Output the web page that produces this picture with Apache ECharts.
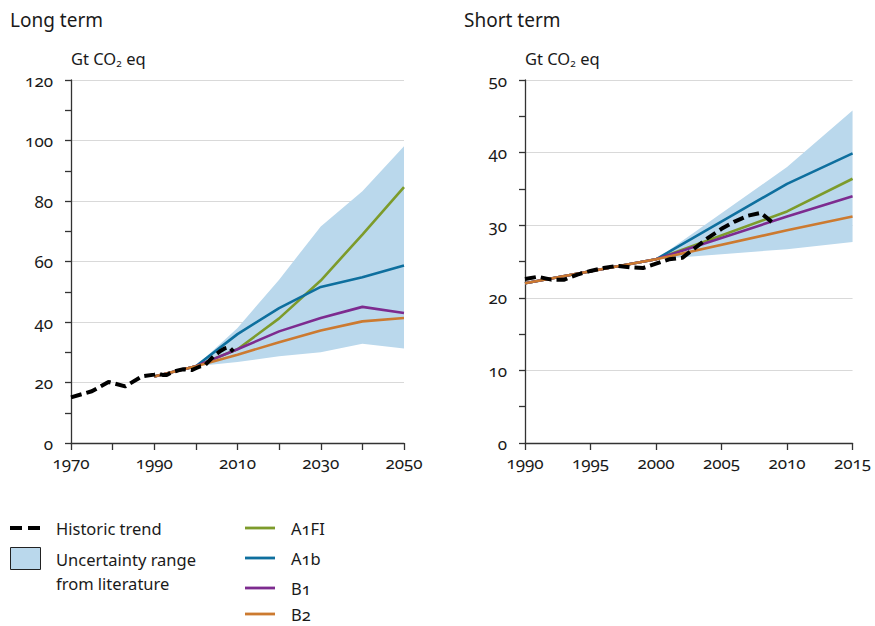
<!DOCTYPE html>
<html>
<head>
<meta charset="utf-8">
<script src="https://cdn.jsdelivr.net/npm/echarts@6/dist/echarts.min.js"></script>
<style>
html,body{margin:0;padding:0;background:#fff;}
#c{width:875px;height:626px;}
svg text{font-variant-numeric: oldstyle-nums !important; font-feature-settings: "onum" 1 !important;}
</style>
</head>
<body>
<div id="c"></div>
<script>
// Historic trend (both panels)
const histYears = [1970,1975,1979,1983,1987,1990,1991,1992,1993,1994,1995,1996,1997,1998,1999,2000,2001,2002,2003,2004,2005,2006,2007,2008,2009];
const histVals  = [15.1,17.1,20.2,18.7,22.0,22.6,22.9,22.5,22.5,23.2,23.7,24.1,24.4,24.2,24.1,24.7,25.3,25.5,26.9,28.3,29.5,30.5,31.3,31.7,30.2];

// Long term scenarios
const longYears = [1990,2000,2010,2020,2030,2040,2050];
const longA1FI  = [22,25.4,31.0,41.2,53.7,68.9,84.6];
const longA1b   = [22,25.4,36.0,44.6,51.6,54.8,58.7];
const longB1    = [22,25.4,31.0,36.9,41.3,45.0,43.0];
const longB2    = [22,25.4,29.2,33.3,37.2,40.2,41.3];
const longBandYears = [2000,2010,2020,2030,2040,2050];
const longBandLow   = [25.4,26.8,28.7,30.0,32.8,31.2];
const longBandHigh  = [25.4,38.0,54.0,71.6,83.2,98.1];

// Short term scenarios
const shortYears = [1990,2000,2010,2015];
const shortA1FI  = [22,25.3,31.9,36.4];
const shortA1b   = [22,25.3,35.7,39.9];
const shortB1    = [22,25.3,31.2,34.0];
const shortB2    = [22,25.3,29.3,31.2];
const shortBandYears = [2000,2010,2015];
const shortBandLow   = [25.3,26.7,27.7];
const shortBandHigh  = [25.3,38.0,45.8];

// Tick settings
const longXTicks = {min:1970,max:2050,interval:20};
const longYTicks = {min:0,max:120,interval:20};
const shortXTicks = {min:1990,max:2015,interval:5};
const shortYTicks = {min:0,max:50,interval:10};

const FONT = 'Noto Sans';
const TXT = '#1a1a1a';
const C = {A1FI:'#7d9b2b', A1b:'#0e6f9e', B1:'#7d2b8f', B2:'#cc7a30', band:'#bad8ec'};

const zip = (xs, ys) => xs.map((x,i)=>[x, ys[i]]);

function xAxis(t, gi, minor){
  return {
    type:'value', gridIndex:gi, min:t.min, max:t.max, interval:t.interval,
    axisLine:{show:true, onZero:false, lineStyle:{color:'#333', width:1.3}},
    axisTick:{show:true, length:7, lineStyle:{color:'#333', width:1.3}},
    minorTick:{show:minor, splitNumber:2, length:7, lineStyle:{color:'#333', width:1.3}},
    splitLine:{show:false},
    axisLabel:{color:TXT, fontFamily:FONT, fontSize:17, margin:11, formatter:v=>String(v)}
  };
}
function yAxis(t, gi){
  return {
    type:'value', gridIndex:gi, min:t.min, max:t.max, interval:t.interval,
    axisLine:{show:true, lineStyle:{color:'#333', width:1.3}},
    axisTick:{show:true, length:6, lineStyle:{color:'#333', width:1.3}},
    minorTick:{show:true, splitNumber:2, length:6, lineStyle:{color:'#333', width:1.3}},
    splitLine:{show:true, lineStyle:{color:'#d9d9d9', width:1.2}},
    axisLabel:{color:TXT, fontFamily:FONT, fontSize:17, margin:18}
  };
}
function line(name, xs, ys, color, gi){
  return {type:'line', name, xAxisIndex:gi, yAxisIndex:gi, data:zip(xs,ys), showSymbol:false, symbol:'none',
    lineStyle:{color, width:2.6}, silent:true, animation:false, z:3};
}
function band(xs, lo, hi, gi){
  const data = xs.map((x,i)=>[x, lo[i], hi[i]]);
  return {
    type:'custom', xAxisIndex:gi, yAxisIndex:gi, data, silent:true, animation:false, z:1,
    encode:{x:0, y:[1,2]},
    renderItem:(params, api)=>{
      if (params.dataIndex !== 0) return null;
      const top = data.map(d=>api.coord([d[0], d[2]]));
      const bot = data.map(d=>api.coord([d[0], d[1]])).reverse();
      return {type:'polygon', shape:{points: top.concat(bot)}, style:{fill:C.band, stroke:null}};
    }
  };
}
function hist(xs, ys, gi, minYear){
  const d = zip(xs,ys).filter(p=>p[0]>=minYear);
  return {type:'line', xAxisIndex:gi, yAxisIndex:gi, data:d, symbol:'none', lineStyle:{color:'#000', width:4, type:[11,5]}, silent:true, animation:false, z:5};
}

const chart = echarts.init(document.getElementById('c'), null, {renderer:'svg'});
const legendY = {A1FI:528, A1b:558, B1:588, B2:614};
const unitRich = {s:{fontFamily:FONT, fontSize:10, fill:TXT, padding:[8,0,0,0]}};
const graphic = [
  {type:'text', left:10, top:10, style:{text:'Long term', fontFamily:FONT, fontSize:19, fill:TXT}},
  {type:'text', left:464, top:10, style:{text:'Short term', fontFamily:FONT, fontSize:19, fill:TXT}},
  {type:'text', left:71, top:50, style:{text:'Gt CO{s|2} eq', fontFamily:FONT, fontSize:16.5, fill:TXT, rich:unitRich}},
  {type:'text', left:525, top:50, style:{text:'Gt CO{s|2} eq', fontFamily:FONT, fontSize:16.5, fill:TXT, rich:unitRich}},
  {type:'line', shape:{x1:10,y1:528,x2:22,y2:528}, style:{stroke:'#000', lineWidth:4}},
  {type:'line', shape:{x1:28,y1:528,x2:40,y2:528}, style:{stroke:'#000', lineWidth:4}},
  {type:'text', x:56, y:528, style:{text:'Historic trend', fontFamily:FONT, fontSize:16.5, fill:TXT, verticalAlign:'middle'}},
  {type:'rect', shape:{x:10.5,y:547.5,width:30,height:22}, style:{fill:C.band, stroke:'#222', lineWidth:1}},
  {type:'text', x:56, y:559, style:{text:'Uncertainty range', fontFamily:FONT, fontSize:16.5, fill:TXT, verticalAlign:'middle'}},
  {type:'text', x:56, y:583, style:{text:'from literature', fontFamily:FONT, fontSize:16.5, fill:TXT, verticalAlign:'middle'}}
];
['A1FI','A1b','B1','B2'].forEach(k=>{
  graphic.push({type:'line', shape:{x1:245,y1:legendY[k],x2:275,y2:legendY[k]}, style:{stroke:C[k], lineWidth:2.8}});
  graphic.push({type:'text', x:291, y:legendY[k], style:{text:k, fontFamily:FONT, fontSize:16.5, fill:TXT, verticalAlign:'middle'}});
});

chart.setOption({
  animation:false,
  grid:[
    {left:71, top:80, width:333, height:363, containLabel:false},
    {left:525, top:80, width:332, height:363, containLabel:false}
  ],
  xAxis:[xAxis(longXTicks,0,true), xAxis(shortXTicks,1,false)],
  yAxis:[yAxis(longYTicks,0), yAxis(shortYTicks,1)],
  graphic,
  series:[
    band(longBandYears,longBandLow,longBandHigh,0),
    line('A1FI',longYears,longA1FI,C.A1FI,0),
    line('A1b',longYears,longA1b,C.A1b,0),
    line('B1',longYears,longB1,C.B1,0),
    line('B2',longYears,longB2,C.B2,0),
    hist(histYears,histVals,0,1970),
    band(shortBandYears,shortBandLow,shortBandHigh,1),
    line('A1FI',shortYears,shortA1FI,C.A1FI,1),
    line('A1b',shortYears,shortA1b,C.A1b,1),
    line('B1',shortYears,shortB1,C.B1,1),
    line('B2',shortYears,shortB2,C.B2,1),
    hist(histYears,histVals,1,1990)
  ]
});
</script>
</body>
</html>
